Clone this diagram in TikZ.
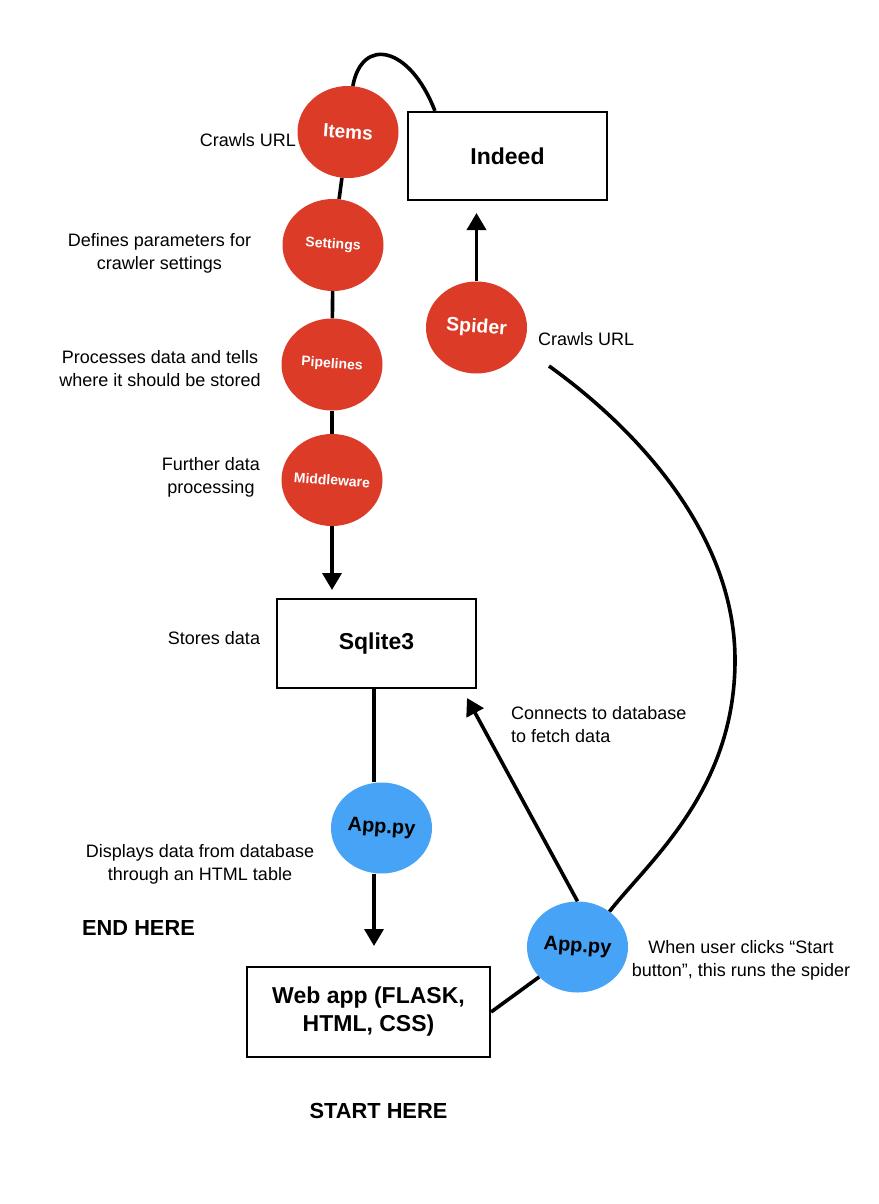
\documentclass[tikz,border=0pt]{standalone}
\usepackage{fontspec}
\setmainfont{Liberation Sans}
\usetikzlibrary{shapes.geometric,arrows.meta}
\definecolor{kred}{RGB}{219,59,39}
\definecolor{kblue}{RGB}{71,163,245}
\newcommand{\circtxt}[1]{\makebox[0pt]{\rotatebox{-4}{#1}}}
\tikzset{
  conn/.style={line width=3.6pt},
  arr/.style={line width=3.6pt,-{Triangle[width=19pt,length=17pt]}},
  redcirc/.style={ellipse,fill=kred,draw=none,minimum width=101pt,minimum height=92pt,inner sep=0pt,text=white,font=\bfseries},
  bluecirc/.style={ellipse,fill=kblue,draw=none,minimum width=101pt,minimum height=91pt,inner sep=0pt,text=black,font=\bfseries},
  boxnode/.style={draw=black,line width=2.2pt,fill=white,inner sep=0pt,align=center,font=\bfseries\fontsize{23}{28}\selectfont},
  desc/.style={align=center,font=\fontsize{18}{23}\selectfont,inner sep=0pt},
  bigtxt/.style={font=\bfseries\fontsize{21.8}{25}\selectfont,inner sep=0pt}
}
\begin{document}
\begin{tikzpicture}[x=1pt,y=-1pt]
\useasboundingbox (0,0) rectangle (878,1204);
% boxes
\node[boxnode,minimum width=199pt,minimum height=88pt] (indeed) at (507.5,156) {Indeed};
\node[boxnode,minimum width=199pt,minimum height=89pt] (sqlite) at (376.5,643.5) {Sqlite3};
\node[boxnode,minimum width=243pt,minimum height=90pt] (webapp) at (368.5,1012) {Web app (FLASK,\\HTML, CSS)};
% circles
\node[redcirc,font=\bfseries\fontsize{19}{22}\selectfont] (items) at (348,132) {\circtxt{Items}};
\node[redcirc,font=\bfseries\fontsize{14}{17}\selectfont] (settings) at (333,245) {\circtxt{Settings}};
\node[redcirc,font=\bfseries\fontsize{14}{17}\selectfont] (pipelines) at (332,364.5) {\circtxt{Pipelines}};
\node[redcirc,font=\bfseries\fontsize{14}{17}\selectfont] (middleware) at (332,480) {\circtxt{Middleware}};
\node[redcirc,font=\bfseries\fontsize{19.5}{22}\selectfont] (spider) at (476.5,327.5) {\circtxt{Spider}};
\node[bluecirc,font=\bfseries\fontsize{20}{23}\selectfont] (app1) at (381.5,828) {\circtxt{App.py}};
\node[bluecirc,font=\bfseries\fontsize{20}{23}\selectfont] (app2) at (577.5,947) {\circtxt{App.py}};
% free ends
\coordinate (spidertip) at (476.5,213);
\coordinate (sqltip) at (332,590);
\coordinate (webtip) at (374,946);
\coordinate (dbtip) at (467,698);
\coordinate (curvestart) at (549,366);
% connectors
\draw[conn] (items.84) .. controls (362,36) and (410,46) .. ([xshift=28pt]indeed.north west);
\draw[conn] (items) -- (settings);
\draw[conn] (settings) -- (pipelines);
\draw[conn] (pipelines) -- (middleware);
\draw[arr] (middleware.south) -- (sqltip);
\draw[arr] (spider.north) -- (spidertip);
\draw[conn] (sqlite.south -| webtip) -- (app1.north -| webtip);
\draw[arr] (app1.south -| webtip) -- (webtip);
\draw[arr] (app2.north) -- (dbtip);
\draw[conn] (webapp.east) -- (app2.218);
\draw[conn] (app2.48) .. controls (650,860) and (735,790) .. (735,660) .. controls (735,540) and (645,435) .. (curvestart);
% labels
\node[desc,anchor=east] (l1) at (296,140) {Crawls URL};
\node[desc] (l2) at (159.5,253) {Defines parameters for\\crawler settings};
\node[desc] (l3) at (160,369) {Processes data and tells\\where it should be stored};
\node[desc] (l4) at (211,477) {Further data\\processing};
\node[desc,anchor=west] (l5) at (538,339) {Crawls URL};
\node[desc] (l6) at (214,638) {Stores data};
\node[desc,anchor=west,align=left] (l7) at (511,725) {Connects to database\\to fetch data};
\node[desc] (l8) at (200,864) {Displays data from database\\through an HTML table};
\node[desc] (l9) at (741,960) {When user clicks “Start\\button”, this runs the spider};
\node[bigtxt,anchor=west] (endh) at (82,928) {END HERE};
\node[bigtxt] (starth) at (378.5,1111) {START HERE};
\end{tikzpicture}
\end{document}
